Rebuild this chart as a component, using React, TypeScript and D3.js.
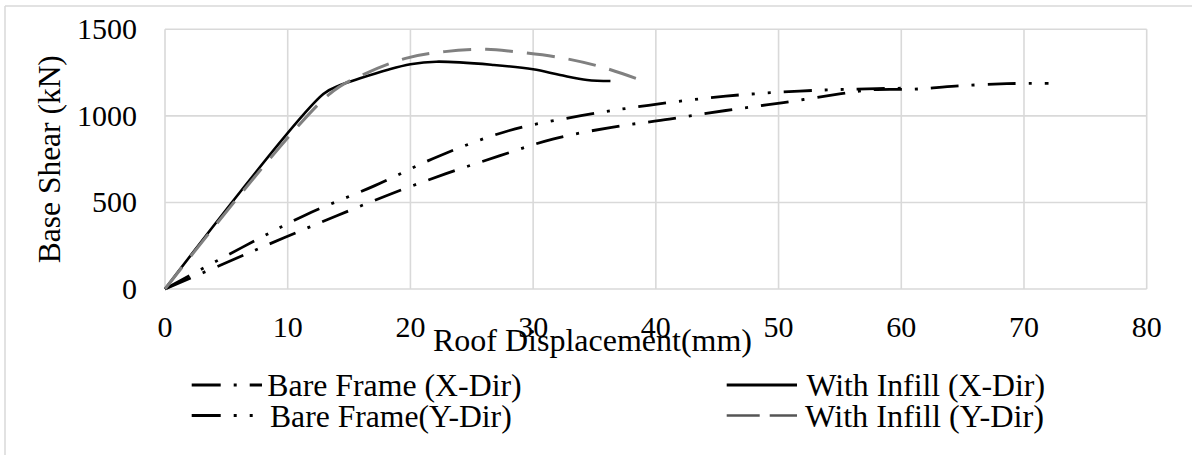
import React from 'react';
import * as d3 from 'd3';

// Tick values
const xTicks = [0, 10, 20, 30, 40, 50, 60, 70, 80];
const yTicks = [0, 500, 1000, 1500];

// Bare Frame (X-Dir)
const bareXDisp = [0, 5.35, 9.7, 14, 18.4, 22.9, 27.3, 31.6, 36.4, 41.1, 45.7, 50.4, 55.1, 57.5, 61, 64.4, 68.6, 72];
const bareXShear = [0, 163, 296, 423, 549, 666, 770, 866, 934, 981, 1031, 1077, 1128, 1150, 1154, 1172, 1186, 1188];

// Bare Frame (Y-Dir)
const bareYDisp = [0, 6.25, 11.5, 17.1, 22.4, 28, 33.9, 39.4, 45.7, 51.7, 56.4, 60.5];
const bareYShear = [0, 239, 429, 597, 770, 914, 1001, 1061, 1114, 1143, 1155, 1160];

// With Infill (X-Dir)
const infillXDisp = [0, 12.9, 14.3, 15.9, 18.1, 20, 22.1, 26.8, 30, 32.2, 34.4, 36.3];
const infillXShear = [0, 1126, 1178, 1217, 1265, 1298, 1313, 1294, 1269, 1236, 1207, 1201];

// With Infill (Y-Dir)
const infillYDisp = [0, 13.3, 16.2, 19.6, 22.8, 26.2, 28.5, 32.1, 35.4, 38.6];
const infillYShear = [0, 1120, 1240, 1332, 1371, 1385, 1371, 1338, 1286, 1211];

const seriesNames = ['Bare Frame (X-Dir)', 'Bare Frame(Y-Dir)', 'With Infill (X-Dir)', 'With Infill (Y-Dir)'];

const FONT = '"Liberation Serif", "Times New Roman", serif';
const GRID = '#d9d9d9';

export default function App() {
  const W = 1192;
  const H = 455;
  const x = d3.scaleLinear().domain([0, 80]).range([165, 1146.7]);
  const y = d3.scaleLinear().domain([0, 1500]).range([289, 29.3]);
  const zip = (a: number[], b: number[]) => a.map((v, i) => [v, b[i]] as [number, number]);
  const line = d3
    .line<[number, number]>()
    .x((d) => x(d[0]))
    .y((d) => y(d[1]))
    .curve(d3.curveCatmullRom.alpha(0.5));

  const series = [
    { name: seriesNames[0], d: line(zip(bareXDisp, bareXShear)), stroke: '#000', width: 2.8, dash: '28 13 3 13' },
    { name: seriesNames[1], d: line(zip(bareYDisp, bareYShear)), stroke: '#000', width: 2.8, dash: '28 13 3 13 3 13' },
    { name: seriesNames[2], d: line(zip(infillXDisp, infillXShear)), stroke: '#000', width: 2.6, dash: undefined },
    { name: seriesNames[3], d: line(zip(infillYDisp, infillYShear)), stroke: '#808080', width: 3, dash: '28 14' },
  ];

  const legend = [
    { name: seriesNames[0], lx: 191.7, ly: 385, tx: 267.3, ty: 395.5, tl: 254.4, stroke: '#000', width: 2.8, dash: '29 13 3 13' },
    { name: seriesNames[1], lx: 191.7, ly: 415.5, tx: 270, ty: 427, tl: 241.7, stroke: '#000', width: 2.8, dash: '29 13 3 13 3 13' },
    { name: seriesNames[2], lx: 726.7, ly: 385, tx: 806.5, ty: 395.5, tl: 238.5, stroke: '#000', width: 2.8, dash: undefined },
    { name: seriesNames[3], lx: 726.7, ly: 415.5, tx: 805, ty: 427, tl: 239, stroke: '#555', width: 2.4, dash: '33 10' },
  ];

  return (
    <svg
      width={W}
      height={H}
      viewBox={`0 0 ${W} ${H}`}
      style={{ position: 'absolute', left: 0, top: 0, background: '#fff' }}
    >
      <rect x={0} y={0} width={W} height={H} fill="#fff" />
      {/* outer border */}
      <line x1={5} x2={W} y1={6} y2={6} stroke={GRID} strokeWidth={1.5} />
      <line x1={5} x2={5} y1={6} y2={H} stroke={GRID} strokeWidth={1.5} />

      {/* grid */}
      {xTicks.map((t) => (
        <line key={'gx' + t} x1={x(t)} x2={x(t)} y1={y(1500)} y2={y(0)} stroke={GRID} strokeWidth={1.6} />
      ))}
      {yTicks.map((t) => (
        <line key={'gy' + t} x1={x(0)} x2={x(80)} y1={y(t)} y2={y(t)} stroke={GRID} strokeWidth={1.6} />
      ))}

      {/* tick labels */}
      {xTicks.map((t) => (
        <text key={'xt' + t} x={x(t)} y={337} textAnchor="middle" fontFamily={FONT} fontSize={30} fill="#000">
          {t}
        </text>
      ))}
      {yTicks.map((t) => (
        <text key={'yt' + t} x={137} y={y(t) + 10} textAnchor="end" fontFamily={FONT} fontSize={30} fill="#000">
          {t}
        </text>
      ))}

      {/* axis titles */}
      <text
        x={433}
        y={351}
        fontFamily={FONT}
        fontSize={31}
        fill="#000"
        textLength={319}
        lengthAdjust="spacingAndGlyphs"
      >
        Roof Displacement(mm)
      </text>
      <text
        transform={`translate(60,${(y(0) + y(1500)) / 2}) rotate(-90)`}
        textAnchor="middle"
        fontFamily={FONT}
        fontSize={31}
        fill="#000"
        textLength={208}
        lengthAdjust="spacingAndGlyphs"
      >
        Base Shear (kN)
      </text>

      {/* series */}
      {series.map((s) => (
        <path
          key={s.name}
          d={s.d || ''}
          fill="none"
          stroke={s.stroke}
          strokeWidth={s.width}
          strokeDasharray={s.dash}
          strokeLinejoin="round"
        />
      ))}

      {/* legend */}
      {legend.map((l) => (
        <g key={'lg' + l.name}>
          <line
            x1={l.lx}
            x2={l.lx + 70.3}
            y1={l.ly}
            y2={l.ly}
            stroke={l.stroke}
            strokeWidth={l.width}
            strokeDasharray={l.dash}
          />
          <text
            x={l.tx}
            y={l.ty}
            fontFamily={FONT}
            fontSize={31.5}
            fill="#000"
            textLength={l.tl}
            lengthAdjust="spacingAndGlyphs"
          >
            {l.name}
          </text>
        </g>
      ))}
    </svg>
  );
}
